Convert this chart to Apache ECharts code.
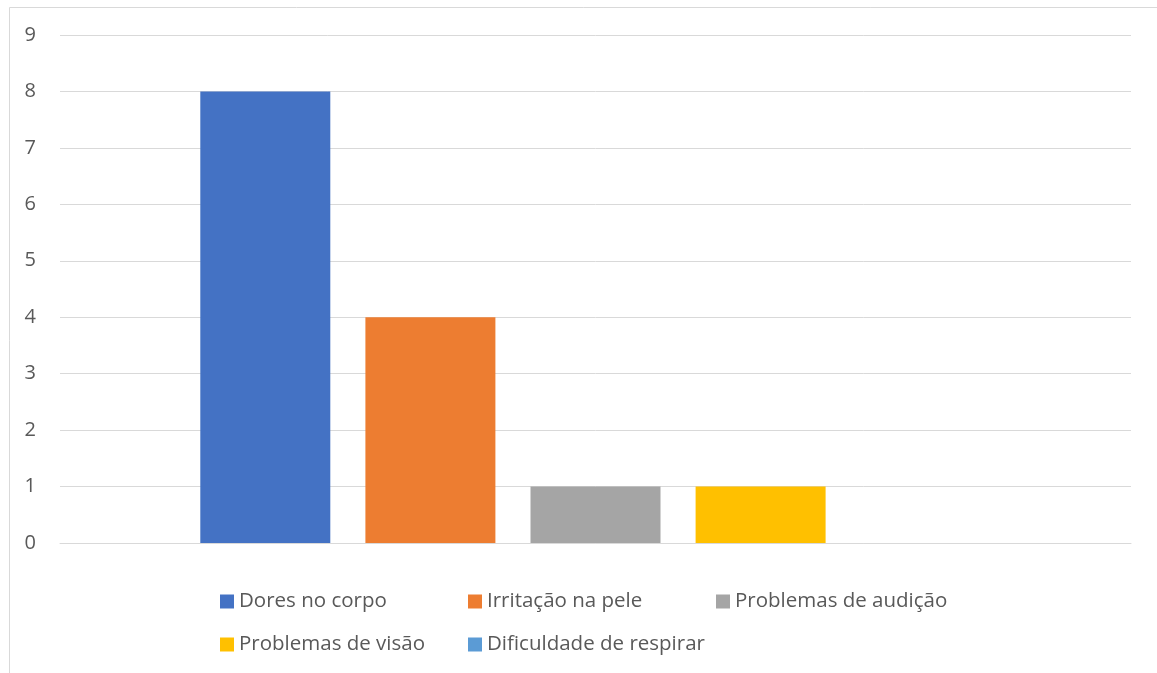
<!DOCTYPE html>
<html>
<head>
<meta charset="utf-8">
<script src="https://cdn.jsdelivr.net/npm/echarts@6/dist/echarts.min.js"></script>
<style>
  html, body { margin: 0; padding: 0; background: #ffffff; }
  #chart { width: 1157px; height: 673px; }
</style>
</head>
<body>
<div id="chart"></div>
<script>
// Sintomas relatados (número de respostas)
const seriesNames = ['Dores no corpo', 'Irritação na pele', 'Problemas de audição', 'Problemas de visão', 'Dificuldade de respirar'];
const seriesValues = [8, 4, 1, 1, 0];
const seriesColors = ['#4472C4', '#ED7D31', '#A5A5A5', '#FFC000', '#5B9BD5'];
const categories = [''];
const yTicks = { min: 0, max: 9, interval: 1 };

const FONT = 'Open Sans';
const TEXT = '#595959';
const GRID = '#d9d9d9';

// legend laid out as a 3-column grid, two rows
const legendCols = [220, 468, 716];
const legendRows = [591, 634];

const chart = echarts.init(document.getElementById('chart'), null, { renderer: 'canvas' });

const legends = seriesNames.map((name, i) => ({
  data: [name],
  left: legendCols[i % 3],
  top: legendRows[Math.floor(i / 3)],
  itemWidth: 14,
  itemHeight: 14,
  icon: 'rect',
  padding: 0,
  selectedMode: false,
  textStyle: { color: TEXT, fontFamily: FONT, fontSize: 20.5 }
}));

chart.setOption({
  animation: false,
  backgroundColor: '#ffffff',
  graphic: [{
    type: 'rect',
    left: 7, top: 5,
    shape: { width: 1200, height: 720 },
    style: { fill: 'none', stroke: GRID, lineWidth: 1 },
    silent: true
  }],
  grid: { left: 60, right: 26, top: 35, bottom: 130 },
  legend: legends,
  xAxis: {
    type: 'category',
    data: categories,
    axisLine: { show: true, lineStyle: { color: GRID } },
    axisTick: { show: false },
    axisLabel: { show: false }
  },
  yAxis: {
    type: 'value',
    min: yTicks.min,
    max: yTicks.max,
    interval: yTicks.interval,
    axisLine: { show: false },
    axisTick: { show: false },
    axisLabel: { color: TEXT, fontFamily: FONT, fontSize: 20, margin: 24 },
    splitLine: { lineStyle: { color: GRID, width: 1 } }
  },
  series: seriesNames.map((name, i) => ({
    name,
    type: 'bar',
    data: [seriesValues[i]],
    barWidth: 130,
    barGap: '27%',
    itemStyle: { color: seriesColors[i] }
  }))
});
</script>
</body>
</html>
